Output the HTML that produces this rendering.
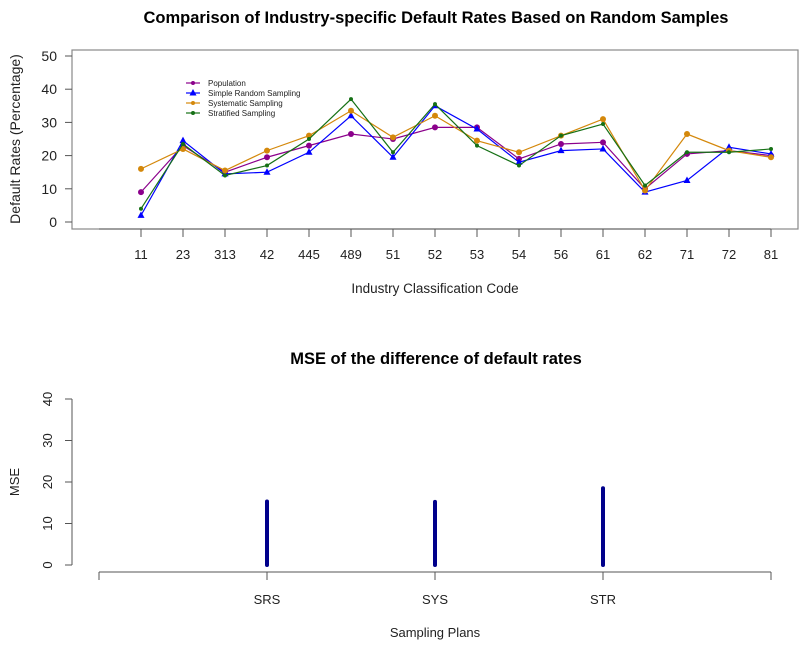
<!DOCTYPE html>
<html><head><meta charset="utf-8"><style>
body{margin:0;background:#fff;}
svg{display:block;font-family:"Liberation Sans",Arial,sans-serif;}
</style></head><body>
<svg id="c" width="804" height="648"></svg>
<script>
const categories=["11","23","313","42","445","489","51","52","53","54","56","61","62","71","72","81"];
const population=[9,23,15,19.5,23,26.5,25,28.5,28.5,19,23.5,24,10,20.5,21.5,20];
const srs=[2,24.5,14.5,15,21,32,19.5,35,28,18,21.5,22,9,12.5,22.5,20.5];
const sys=[16,22,15.5,21.5,26,33.5,25.5,32,24.5,21,26,31,9.5,26.5,21.5,19.5];
const str=[4,23.5,14,17,25,37,21,35.5,23,17,26,29.5,11,21,21,22];
const topTicks=[0,10,20,30,40,50];
const plans=["SRS","SYS","STR"];
const mse=[15.3,15.2,18.5];
const mseTicks=[0,10,20,30,40];

const NS="http://www.w3.org/2000/svg";
const svg=document.getElementById('c');
function el(t,a,p){const e=document.createElementNS(NS,t);for(const k in a)e.setAttribute(k,a[k]);(p||svg).appendChild(e);return e;}
function txt(s,a,p){const e=el('text',a,p);e.textContent=s;return e;}

// ---- top chart ----
const tx=i=>141+i*42;
const ty=v=>222-v*3.32;
const g1=el('g',{});


let t=txt("Comparison of Industry-specific Default Rates Based on Random Samples",{x:436,y:23,'text-anchor':'middle','font-size':16.5,'font-weight':'bold',fill:'#000'},g1);

let b=el('rect',{x:72,y:50,width:726,height:179,fill:'none',stroke:'#888','stroke-width':1.2},g1);

topTicks.forEach(v=>{el('line',{x1:65,x2:72,y1:ty(v),y2:ty(v),stroke:'#555'},g1);
 const l=txt(v,{x:57,y:ty(v)+5,'text-anchor':'end','font-size':14,fill:'#222'},g1);
 });
el('line',{x1:99,x2:771,y1:229,y2:229,stroke:'#555'},g1);
categories.forEach((c,i)=>{el('line',{x1:tx(i),x2:tx(i),y1:229,y2:237,stroke:'#555'},g1);
 const l=txt(c,{x:tx(i),y:259,'text-anchor':'middle','font-size':13,fill:'#222'},g1);
 });
t=txt("Default Rates (Percentage)",{x:0,y:0,transform:'translate(20,139) rotate(-90)','text-anchor':'middle','font-size':14,fill:'#222'},g1);

t=txt("Industry Classification Code",{x:435,y:293,'text-anchor':'middle','font-size':13.5,fill:'#222'},g1);

const series=[[population,'#8B008B','circle','population'],[srs,'#0000FF','tri','simple-random-sampling'],[sys,'#D4880B','circle','systematic-sampling'],[str,'#157015','small','stratified-sampling']];
function marker(x,y,type,col,p){
 if(type==='tri')return el('polygon',{points:`${x},${y-4} ${x-3.5},${y+2.5} ${x+3.5},${y+2.5}`,fill:col},p);
 return el('circle',{cx:x,cy:y,r:type==='small'?2:3,fill:col},p);}
series.forEach(([d,col,type,name])=>{
 const sg=el('g',{},g1);
 
 el('polyline',{points:d.map((v,i)=>tx(i)+','+ty(v)).join(' '),fill:'none',stroke:col,'stroke-width':1.2},sg);
 d.forEach((v,i)=>{const m=marker(tx(i),ty(v),type,col,sg);});
});
const names=["Population","Simple Random Sampling","Systematic Sampling","Stratified Sampling"];
series.forEach((s,i)=>{const lg=el('g',{},g1);
 
 const y=83+i*10;
 el('line',{x1:186,x2:200,y1:y,y2:y,stroke:s[1],'stroke-width':1.2},lg);
 marker(193,y,s[2]==='circle'?'small':s[2],s[1],lg);
 txt(names[i],{x:208,y:y+3,'font-size':8,fill:'#222'},lg);});

// ---- bottom chart ----
const bx=i=>267+i*168;
const by=v=>565-v*4.15;
const g2=el('g',{});

t=txt("MSE of the difference of default rates",{x:436,y:364,'text-anchor':'middle','font-size':16.5,'font-weight':'bold',fill:'#000'},g2);

el('line',{x1:72,x2:72,y1:by(0),y2:by(40),stroke:'#555'},g2);
mseTicks.forEach(v=>{el('line',{x1:65,x2:72,y1:by(v),y2:by(v),stroke:'#555'},g2);
 const l=txt(v,{x:0,y:0,transform:`translate(52,${by(v)}) rotate(-90)`,'text-anchor':'middle','font-size':13,fill:'#222'},g2);
 });
el('line',{x1:99,x2:771,y1:572,y2:572,stroke:'#555'},g2);
[99,771].forEach(x=>el('line',{x1:x,x2:x,y1:572,y2:580,stroke:'#555'},g2));
plans.forEach((p,i)=>{el('line',{x1:bx(i),x2:bx(i),y1:572,y2:580,stroke:'#555'},g2);
 const l=txt(p,{x:bx(i),y:604,'text-anchor':'middle','font-size':13,fill:'#222'},g2);
 
 const bar=el('line',{x1:bx(i),x2:bx(i),y1:by(0),y2:by(mse[i]),stroke:'#00008B','stroke-width':4,'stroke-linecap':'round'},g2);
 });
t=txt("MSE",{x:0,y:0,transform:'translate(19,482) rotate(-90)','text-anchor':'middle','font-size':13,fill:'#222'},g2);

t=txt("Sampling Plans",{x:435,y:637,'text-anchor':'middle','font-size':13,fill:'#222'},g2);

</script>
</body></html>
